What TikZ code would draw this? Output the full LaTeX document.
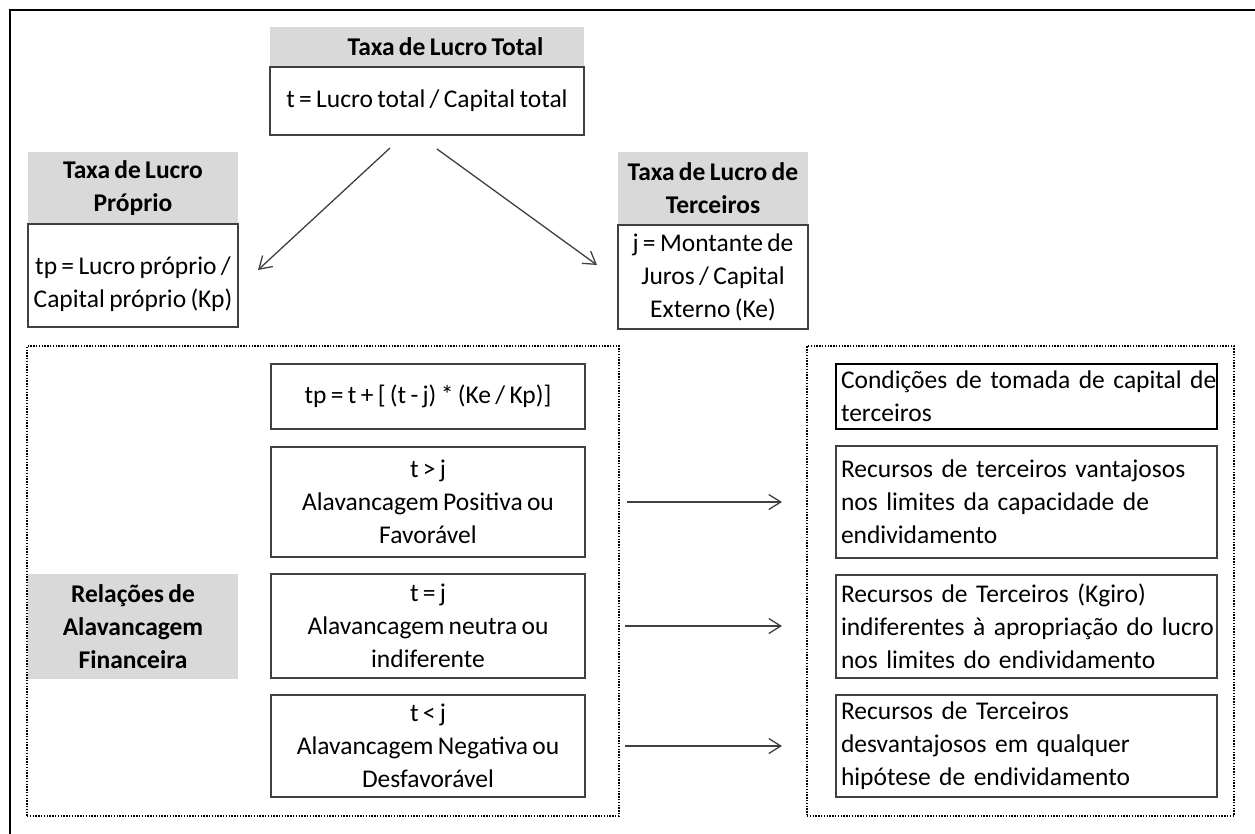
\documentclass[tikz,border=0pt]{standalone}
\usepackage{fontspec}
\setmainfont{Carlito}[WordSpace={0.75,0,0}]
\usetikzlibrary{arrows.meta}
\definecolor{hdrgray}{HTML}{D9D9D9}
\definecolor{edgegray}{HTML}{404040}
\newcommand\oneline[1]{\mbox{#1}}
\begin{document}
\begin{tikzpicture}[x=1pt,y=-1pt,
  every node/.style={inner sep=0pt, outer sep=0pt, font=\fontsize{25.5}{33}\selectfont},
  hdr/.style={fill=hdrgray, font=\bfseries\fontsize{25.5}{33}\selectfont, align=center, anchor=north west},
  wbox/.style={draw=edgegray, line width=1.5pt, align=center, anchor=north west},
  lbox/.style={draw=edgegray, line width=1.5pt, align=left, anchor=north west, inner xsep=5pt},
  cont/.style={draw=black, line width=1.1pt, dash pattern=on 1.4pt off 1.4pt, anchor=north west},
  conn/.style={draw=edgegray, line width=1.3pt, -{Straight Barb[length=12pt,width=15pt]}},
]
\useasboundingbox (0,0) rectangle (1255,833);
\draw[line width=2.5pt] (10,840) |- (1260,10);

% dotted containers
\node[cont, minimum width=592pt, minimum height=470pt] (leftc) at (27,346) {};
\node[cont, minimum width=427pt, minimum height=470pt] (rightc) at (807,346) {};

% top
\node[hdr, minimum width=314pt, minimum height=40pt] (totH) at (270,27) {};
\node[font=\bfseries\fontsize{25.5}{33}\selectfont] (totT) at (445.5,47) {Taxa de Lucro Total};
\node[wbox, minimum width=314pt, minimum height=68pt] (tot) at (270,67) {t = Lucro total / Capital total};

% left
\node[hdr, minimum width=210pt, minimum height=72pt] (tpH) at (28,152) {Taxa de Lucro\\Próprio};
\node[wbox, minimum width=210pt, minimum height=103pt] (tp) at (28,224) {};
\node[align=center] (tpT) at (133,284) {tp = Lucro próprio /\\Capital próprio (Kp)};

% right
\node[hdr, minimum width=190pt, minimum height=73pt] (jH) at (618,152) {Taxa de Lucro de\\Terceiros};
\node[wbox, minimum width=190pt, minimum height=104pt] (j) at (618,225) {j = Montante de\\Juros / Capital\\Externo (Ke)};

% diagonal arrows
\coordinate (a1s) at (390,148); \coordinate (a1e) at (258,270);
\coordinate (a2s) at (437,149); \coordinate (a2e) at (597,265);
\draw[conn] (a1s) -- (a1e);
\draw[conn] (a2s) -- (a2e);

% left column
\node[wbox, minimum width=314pt, minimum height=65pt] (tpf) at (271,364) {tp = t + [ (t - j) * (Ke / Kp)]};
\node[wbox, minimum width=314pt, minimum height=110pt] (pos) at (271,447) {t > j\\Alavancagem Positiva ou\\Favorável};
\node[wbox, minimum width=314pt, minimum height=104pt] (neu) at (271,574) {t = j\\Alavancagem neutra ou\\indiferente};
\node[wbox, minimum width=314pt, minimum height=102pt] (neg) at (271,695) {t < j\\Alavancagem Negativa ou\\Desfavorável};
\node[hdr, minimum width=210pt, minimum height=105pt] (rel) at (28,574) {Relações de\\Alavancagem\\Financeira};

% right column
\node[lbox, draw=black, line width=2.5pt, minimum width=381pt, minimum height=65pt, text width=371pt] (cond) at (836,364) {\oneline{Condições de tomada de capital de}\\\oneline{terceiros}};
\node[lbox, minimum width=381pt, minimum height=112pt, text width=371pt] (r1) at (836,446) {\oneline{Recursos de terceiros vantajosos}\\\oneline{nos limites da capacidade de}\\\oneline{endividamento}};
\node[lbox, minimum width=381pt, minimum height=103pt, text width=371pt] (r2) at (836,575) {\oneline{Recursos de Terceiros (Kgiro)}\\\oneline{indiferentes à apropriação do lucro}\\\oneline{nos limites do endividamento}};
\node[lbox, minimum width=381pt, minimum height=102pt, text width=371pt] (r3) at (836,695) {\oneline{Recursos de Terceiros}\\\oneline{desvantajosos em qualquer}\\\oneline{hipótese de endividamento}};

% horizontal arrows
\draw[conn, shorten <=42pt, shorten >=54pt] (pos.east) -- (pos.east -| r1.west);
\draw[conn, shorten <=40pt, shorten >=54pt] (neu.east) -- (neu.east -| r2.west);
\draw[conn, shorten <=40pt, shorten >=54pt] (neg.east) -- (neg.east -| r3.west);
\end{tikzpicture}
\end{document}
